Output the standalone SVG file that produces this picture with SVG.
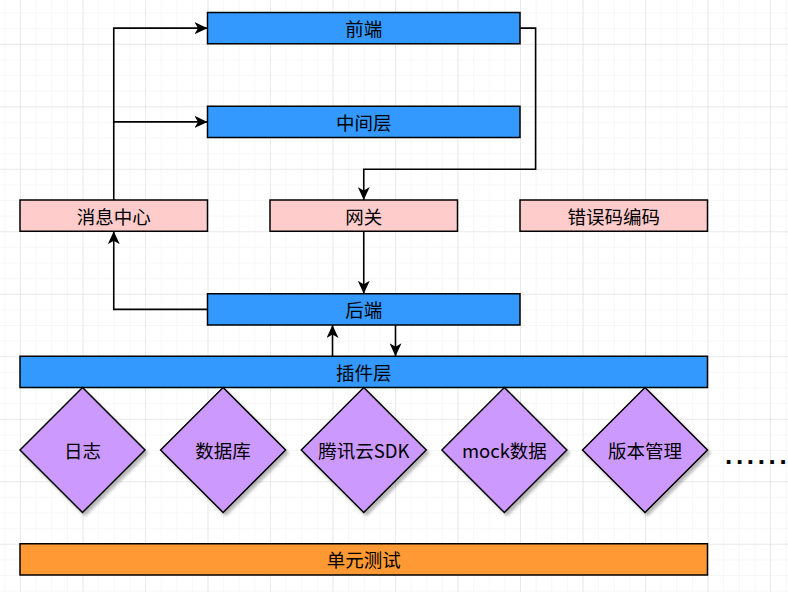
<svg xmlns="http://www.w3.org/2000/svg" width="788" height="592" viewBox="0 0 788 592">
<style>
.box{stroke:#000;stroke-width:1.5}
.blue{fill:#3399FF}
.pink{fill:#FFCCCC}
.purple{fill:#CC99FF}
.orange{fill:#FF9933}
.t{font-family:"Noto Sans CJK SC","Liberation Sans",sans-serif;font-size:18.5px;fill:#000;text-anchor:middle;dominant-baseline:central}
.edge{fill:none;stroke:#000;stroke-width:1.6}
</style>
<defs>
<pattern id="minor" patternUnits="userSpaceOnUse" x="4.375" y="-3.125" width="15.625" height="15.625">
<path d="M0,0 H15.625 M0,0 V15.625" fill="none" stroke="#efefef" stroke-width="1"/>
</pattern>
<pattern id="major" patternUnits="userSpaceOnUse" x="20" y="-18.75" width="62.5" height="62.5">
<path d="M0,0 H62.5 M0,0 V62.5" fill="none" stroke="#dcdcdc" stroke-width="1"/>
</pattern>
<marker id="arr" viewBox="0 0 14 12" refX="13" refY="6" markerWidth="14" markerHeight="12" markerUnits="userSpaceOnUse" orient="auto">
<path d="M0,0 L13,6 L0,12 L3.5,6 Z" fill="#000"/>
</marker>
<filter id="sh" x="-20%" y="-20%" width="150%" height="150%">
<feDropShadow dx="2.5" dy="3" stdDeviation="1.8" flood-color="#000" flood-opacity="0.28"/>
</filter>
</defs>
<rect width="788" height="592" fill="#fff"/>
<rect width="788" height="592" fill="url(#minor)"/>
<rect width="788" height="592" fill="url(#major)"/>

<g id="connectors">
<path class="edge" d="M113.75,200 V28.125 H207.5" marker-end="url(#arr)"/>
<path class="edge" d="M113.75,121.875 H207.5" marker-end="url(#arr)"/>
<path class="edge" d="M520,28.125 H535.6 V169.3 H363.75 V200" marker-end="url(#arr)"/>
<path class="edge" d="M363.75,231.25 V293.75" marker-end="url(#arr)"/>
<path class="edge" d="M207.5,309.375 H113.75 V231.25" marker-end="url(#arr)"/>
<path class="edge" d="M332.5,356.25 V325" marker-end="url(#arr)"/>
<path class="edge" d="M395.5,325 V356.25" marker-end="url(#arr)"/>
</g>

<g id="frontend"><rect class="box blue" x="207.5" y="12.5" width="312.5" height="31.25"/><text class="t" x="363.75" y="28.125">前端</text></g>
<g id="middle"><rect class="box blue" x="207.5" y="106.25" width="312.5" height="31.25"/><text class="t" x="363.75" y="121.875">中间层</text></g>
<g id="msgcenter"><rect class="box pink" x="20" y="200" width="187.5" height="31.25"/><text class="t" x="113.75" y="215.625">消息中心</text></g>
<g id="gateway"><rect class="box pink" x="270" y="200" width="187.5" height="31.25"/><text class="t" x="363.75" y="215.625">网关</text></g>
<g id="errcode"><rect class="box pink" x="520" y="200" width="187.5" height="31.25"/><text class="t" x="613.75" y="215.625">错误码编码</text></g>
<g id="backend"><rect class="box blue" x="207.5" y="293.75" width="312.5" height="31.25"/><text class="t" x="363.75" y="309.375">后端</text></g>
<g id="plugin"><rect class="box blue" x="20" y="356.25" width="687.5" height="31.25"/><text class="t" x="363.75" y="371.875">插件层</text></g>

<g id="log"><path class="box purple" filter="url(#sh)" d="M82.5,387.5 L145,450 L82.5,512.5 L20,450 Z"/><text class="t" x="82.5" y="450">日志</text></g>
<g id="db"><path class="box purple" filter="url(#sh)" d="M223.125,387.5 L285.625,450 L223.125,512.5 L160.625,450 Z"/><text class="t" x="223.125" y="450">数据库</text></g>
<g id="tencent"><path class="box purple" filter="url(#sh)" d="M363.75,387.5 L426.25,450 L363.75,512.5 L301.25,450 Z"/><text class="t" x="363.75" y="450">腾讯云SDK</text></g>
<g id="mock"><path class="box purple" filter="url(#sh)" d="M504.375,387.5 L566.875,450 L504.375,512.5 L441.875,450 Z"/><text class="t" x="504.375" y="450">mock数据</text></g>
<g id="version"><path class="box purple" filter="url(#sh)" d="M645,387.5 L707.5,450 L645,512.5 L582.5,450 Z"/><text class="t" x="645" y="450">版本管理</text></g>

<g id="more"><text x="725 735.9 746.8 757.7 768.6 779.5" y="464" font-family="Liberation Sans,sans-serif" font-size="26" font-weight="bold" fill="#000">......</text></g>

<g id="unittest"><rect class="box orange" x="20" y="543.75" width="687.5" height="31.25"/><text class="t" x="363.75" y="559.375">单元测试</text></g>
</svg>
